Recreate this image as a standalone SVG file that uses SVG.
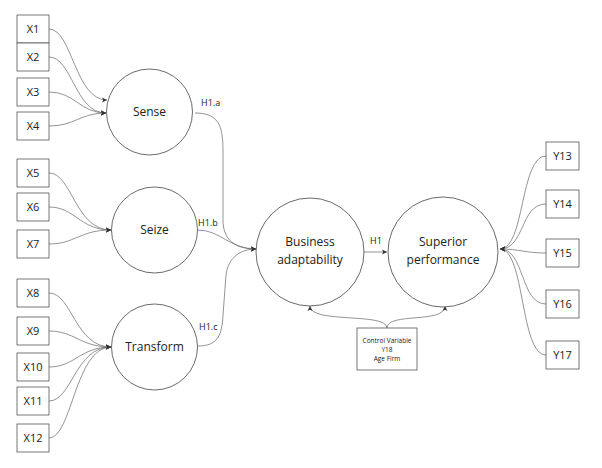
<svg xmlns="http://www.w3.org/2000/svg" width="602" height="468" viewBox="0 0 602 468">
<defs>
<marker id="ah" markerWidth="6" markerHeight="6" refX="5" refY="3" orient="auto" markerUnits="userSpaceOnUse">
<path d="M0,0.5 L5,3 L0,5.5 L1.2,3 Z" fill="#333"/>
</marker>
</defs>
<style>
.box{fill:#fff;stroke:#555;stroke-width:0.8}
.circ{fill:#fff;stroke:#444;stroke-width:0.8}
.t{font-family:"Open Sans","Liberation Sans",sans-serif;fill:#222;text-anchor:middle}
.bx{font-size:11px}
.ct{font-size:12px}
.lb{font-family:"Open Sans","Liberation Sans",sans-serif;fill:#222;font-size:9px}
.sm{font-size:6.5px}
.e{fill:none;stroke:#666;stroke-width:0.7;marker-end:url(#ah)}
</style>
<rect width="602" height="468" fill="#fff"/>
<g id="connectors">
<path class="e" d="M49,29 C72,29 75,100 107,100"/>
<path class="e" d="M49,57 C72,57 75,113 106,113"/>
<path class="e" d="M49,92 C75,92 80,113 106,113"/>
<path class="e" d="M49,126 C75,126 80,113 106,113"/>
<path class="e" d="M49,173 C72,173 75,230 111,230"/>
<path class="e" d="M49,207 C75,207 80,230 111,230"/>
<path class="e" d="M49,244 C75,244 80,230 111,230"/>
<path class="e" d="M49,293 C72,293 75,347 111,347"/>
<path class="e" d="M49,331 C75,331 80,347 111,347"/>
<path class="e" d="M49,367 C75,367 80,347 111,347"/>
<path class="e" d="M49,401 C72,401 75,347 111,347"/>
<path class="e" d="M49,438 C72,438 75,347 111,347"/>
<path class="e" d="M195,113 C218,113 223,125 223,150 L223,220 C223,240 235,249 256,249"/>
<path class="e" d="M198,230 C220,230 230,249 256,249"/>
<path class="e" d="M198,346 C218,346 222,335 223,315 L226,275 C228,258 240,249 256,249"/>
<path class="e" d="M363,252 L387,252"/>
<path class="e" d="M546,156 C520,156 525,249 500,249"/>
<path class="e" d="M546,204 C520,204 525,249 500,249"/>
<path class="e" d="M546,253 C525,253 520,249 500,249"/>
<path class="e" d="M546,304 C520,304 525,249 500,249"/>
<path class="e" d="M546,355 C520,355 525,249 500,249"/>
<path class="e" d="M387,328 C387,312 310,324 310,306"/>
<path class="e" d="M387,328 C387,312 445,324 445,306"/>
</g>
<g id="x1"><rect class="box" x="17" y="15" width="32" height="28"/><text class="t bx" x="33" y="33">X1</text></g>
<g id="x2"><rect class="box" x="17" y="43" width="32" height="28"/><text class="t bx" x="33" y="61">X2</text></g>
<g id="x3"><rect class="box" x="17" y="78" width="32" height="28"/><text class="t bx" x="33" y="96">X3</text></g>
<g id="x4"><rect class="box" x="17" y="112" width="32" height="28"/><text class="t bx" x="33" y="130">X4</text></g>
<g id="x5"><rect class="box" x="17" y="159" width="32" height="28"/><text class="t bx" x="33" y="177">X5</text></g>
<g id="x6"><rect class="box" x="17" y="193" width="32" height="28"/><text class="t bx" x="33" y="211">X6</text></g>
<g id="x7"><rect class="box" x="17" y="230" width="32" height="28"/><text class="t bx" x="33" y="248">X7</text></g>
<g id="x8"><rect class="box" x="17" y="279" width="32" height="28"/><text class="t bx" x="33" y="297">X8</text></g>
<g id="x9"><rect class="box" x="17" y="317" width="32" height="28"/><text class="t bx" x="33" y="335">X9</text></g>
<g id="x10"><rect class="box" x="17" y="353" width="32" height="28"/><text class="t bx" x="33" y="371">X10</text></g>
<g id="x11"><rect class="box" x="17" y="387" width="32" height="28"/><text class="t bx" x="33" y="405">X11</text></g>
<g id="x12"><rect class="box" x="17" y="424" width="32" height="28"/><text class="t bx" x="33" y="442">X12</text></g>
<g id="sense"><circle class="circ" cx="149.5" cy="112" r="43"/><text class="t ct" x="149.5" y="116">Sense</text></g>
<g id="seize"><circle class="circ" cx="154.5" cy="230" r="43"/><text class="t ct" x="154.5" y="234">Seize</text></g>
<g id="transform"><circle class="circ" cx="154.5" cy="347" r="43"/><text class="t ct" x="154.5" y="351">Transform</text></g>
<g id="business"><circle class="circ" cx="310" cy="252" r="54"/><text class="t ct" x="310" y="246">Business</text><text class="t ct" x="310" y="264">adaptability</text></g>
<g id="superior"><circle class="circ" cx="443" cy="252" r="55"/><text class="t ct" x="443" y="246">Superior</text><text class="t ct" x="443" y="264">performance</text></g>
<g id="control"><rect class="box" x="357" y="328" width="60" height="42"/><text class="t sm" x="387" y="343">Control Variable</text><text class="t sm" x="387" y="352">Y18</text><text class="t sm" x="387" y="361">Age Firm</text></g>
<g id="y13"><rect class="box" x="546" y="142" width="33" height="28"/><text class="t bx" x="562.5" y="160">Y13</text></g>
<g id="y14"><rect class="box" x="546" y="190" width="33" height="28"/><text class="t bx" x="562.5" y="208">Y14</text></g>
<g id="y15"><rect class="box" x="546" y="239" width="33" height="28"/><text class="t bx" x="562.5" y="257">Y15</text></g>
<g id="y16"><rect class="box" x="546" y="290" width="33" height="28"/><text class="t bx" x="562.5" y="308">Y16</text></g>
<g id="y17"><rect class="box" x="546" y="341" width="33" height="28"/><text class="t bx" x="562.5" y="359">Y17</text></g>
<g id="labels">
<text class="lb" x="201" y="106">H1.a</text>
<text class="lb" x="198" y="226">H1.b</text>
<text class="lb" x="199" y="330">H1.c</text>
<text class="lb" x="370" y="244">H1</text>
</g>
</svg>
